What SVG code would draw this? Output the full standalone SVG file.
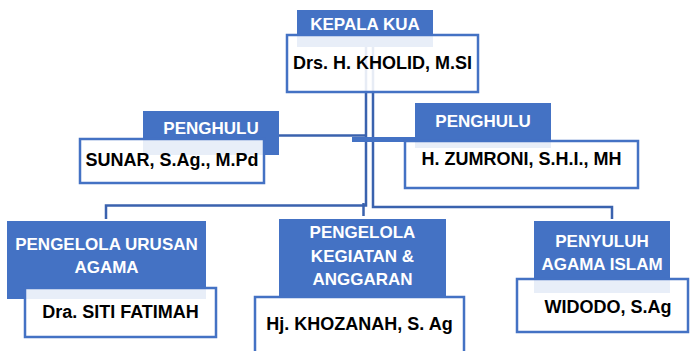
<svg xmlns="http://www.w3.org/2000/svg" width="690" height="351" viewBox="0 0 690 351">
<style>
.hdr{fill:#4472C4}
.box{fill:#fff;fill-opacity:0.88;stroke:#4472C4;stroke-width:2.5}
.ht{font-family:"Liberation Sans",Arial,sans-serif;font-weight:bold;font-size:17px;fill:#fff;text-anchor:middle}
.nt{font-family:"Liberation Sans",Arial,sans-serif;font-weight:bold;font-size:18px;fill:#000;text-anchor:middle}
.cn{fill:none;stroke:#3A62AE;stroke-width:2.5}
</style>
<rect width="690" height="351" fill="#fff"/>
<g id="connectors">
<path class="cn" d="M366 47 V205.5 H106 V219"/>
<path class="cn" d="M373 47 V207 H612 V219"/>
<path class="cn" d="M363.5 203 V216"/>
<path class="cn" d="M279 135.5 H366"/>
<rect x="352" y="137" width="63" height="5" fill="#4472C4"/>
</g>
<g id="kepala">
<rect class="hdr" x="297" y="10" width="136" height="37"/>
<text class="ht" x="365" y="30">KEPALA KUA</text>
<rect class="box" x="287" y="35" width="191" height="57"/>
<text class="nt" x="382.5" y="69">Drs. H. KHOLID, M.SI</text>
</g>
<g id="penghulu-left">
<rect class="hdr" x="143" y="111" width="136" height="44"/>
<text class="ht" x="211" y="134">PENGHULU</text>
<rect class="box" x="80" y="139" width="184" height="44"/>
<text class="nt" x="172" y="166">SUNAR, S.Ag., M.Pd</text>
</g>
<g id="penghulu-right">
<rect class="hdr" x="415" y="103" width="136" height="45"/>
<text class="ht" x="483" y="127">PENGHULU</text>
<rect class="box" x="405" y="141" width="233" height="47"/>
<text class="nt" x="521.5" y="165">H. ZUMRONI, S.H.I., MH</text>
</g>
<g id="pengelola-urusan">
<rect class="hdr" x="7" y="221" width="199" height="78"/>
<text class="ht" x="106.5" y="250">PENGELOLA URUSAN</text>
<text class="ht" x="106.5" y="273">AGAMA</text>
<rect class="box" x="25" y="288" width="191" height="49"/>
<text class="nt" x="120.5" y="318">Dra. SITI FATIMAH</text>
</g>
<g id="pengelola-kegiatan">
<rect class="hdr" x="279" y="219" width="167" height="79"/>
<text class="ht" x="362.5" y="238">PENGELOLA</text>
<text class="ht" x="362.5" y="262">KEGIATAN &amp;</text>
<text class="ht" x="362.5" y="285">ANGGARAN</text>
<rect class="box" x="255" y="297" width="209" height="60"/>
<text class="nt" x="359.5" y="330">Hj. KHOZANAH, S. Ag</text>
</g>
<g id="penyuluh">
<rect class="hdr" x="534" y="221" width="136" height="72"/>
<text class="ht" x="602" y="247">PENYULUH</text>
<text class="ht" x="602" y="270">AGAMA ISLAM</text>
<rect class="box" x="517" y="279" width="171" height="53"/>
<text class="nt" x="608" y="313">WIDODO, S.Ag</text>
</g>
</svg>
